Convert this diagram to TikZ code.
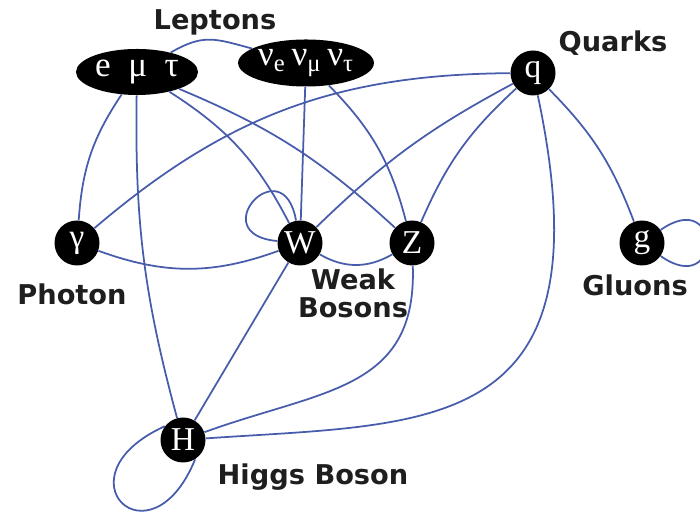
\documentclass[tikz,border=0pt]{standalone}
\usepackage{fontspec}
\setmainfont{Liberation Serif}
\newfontfamily\labelfont{DejaVu Sans}
\usetikzlibrary{shapes.geometric}

\definecolor{edgeblue}{RGB}{72,92,172}
\definecolor{labelgray}{RGB}{30,30,30}

\begin{document}
\begin{tikzpicture}[
  particle/.style={circle, fill=black, text=white, minimum size=0.9cm, inner sep=0pt, font=\fontsize{19}{19}\selectfont},
  family/.style={ellipse, fill=black, text=white, inner sep=0pt, font=\fontsize{20}{20}\selectfont},
  group/.style={text=labelgray, font=\labelfont\bfseries\fontsize{15.5}{16}\selectfont, align=center},
  link/.style={draw=edgeblue, line width=1pt}
]
\useasboundingbox (0,0) rectangle (14,10.26);

\node[family, minimum width=2.44cm, minimum height=0.92cm](e) at (2.74,8.82) {e\hspace{0.5em}μ\hspace{0.5em}τ};
\node[family, minimum width=2.66cm, minimum height=0.94cm](nu) at (6.12,9.00) {ν\textsubscript{e}\,ν\textsubscript{μ}\,ν\textsubscript{τ}};
\node[particle](q) at (10.66,8.80) {q};
\node[particle](y) at (1.54,5.40) {γ};
\node[particle](w) at (6.00,5.40) {W};
\node[particle](z) at (8.24,5.40) {Z};
\node[particle](g) at (12.84,5.40) {g};
\node[particle](h) at (3.66,1.46) {H};

\node[group](leptons) at (4.30,9.82) {Leptons};
\node[group](quarks) at (12.26,9.40) {Quarks};
\node[group](photon) at (1.44,4.38) {Photon};
\node[group](weak) at (7.06,4.40) {Weak\\Bosons};
\node[group](gluons) at (12.70,4.56) {Gluons};
\node[group](higgs) at (6.26,0.72) {Higgs Boson};

\draw[link] (e) to[out=30, in=165, looseness=1.2] (nu);
\draw[link] (e) to[bend right=15] (y);
\draw[link] (e) to[bend right=8] (h);
\draw[link] (e) to[bend left=15] (w);
\draw[link] (e) to[bend left=10] (z);
\draw[link] (nu) -- (w);
\draw[link] (nu) to[bend left=15] (z);
\draw[link] (q) to[bend right=20] (y);
\draw[link] (q) to[bend right=8] (w);
\draw[link] (q) to[bend right=12] (z);
\draw[link] (q) to[bend left=12] (g);
\draw[link] (q) to[out=-78, in=4, out distance=7cm, in distance=4.5cm] (h);
\draw[link] (y) to[bend right=20] (w);
\draw[link] (w) to[bend right=30] (z);
\draw[link] (w) -- (h);
\draw[link] (z) to[out=-88, in=20, looseness=1.2] (h);
\draw[link] (w) to[loop, out=100, in=175, min distance=1.5cm] (w);
\draw[link] (g) to[loop, out=35, in=-35, min distance=1.5cm] (g);
\draw[link] (h.143) .. controls +(-2.2,-1.0) and +(-0.9,-2.2) .. (h.-58);
\end{tikzpicture}
\end{document}
